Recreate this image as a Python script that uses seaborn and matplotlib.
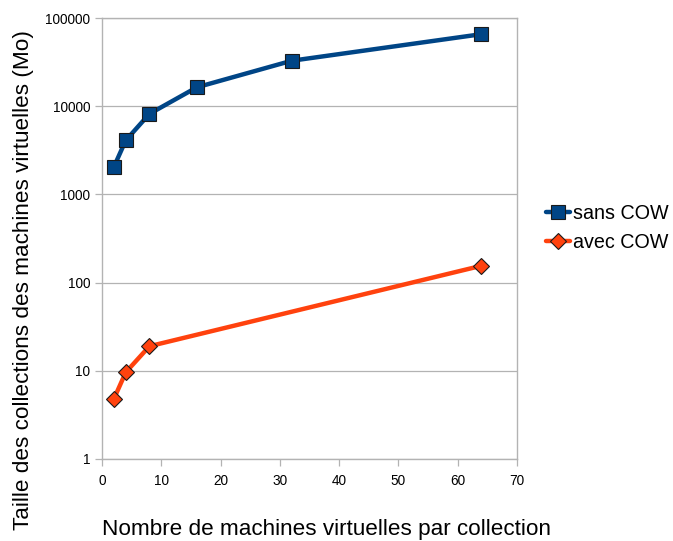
import matplotlib
matplotlib.use('Agg')
import matplotlib.pyplot as plt
import matplotlib.ticker as mticker
import pandas as pd
import seaborn as sns

# data
x_sans = [2, 4, 8, 16, 32, 64]
y_sans = [2048, 4096, 8192, 16384, 32768, 65536]
x_avec = [2, 4, 8, 64]
y_avec = [4.8, 9.6, 19, 155]

BLUE = '#004586'
ORANGE = '#ff420e'

sns.set_style('white')
plt.rcParams['font.family'] = ['Liberation Sans', 'DejaVu Sans']
plt.rcParams['text.color'] = 'black'
plt.rcParams['axes.labelcolor'] = 'black'
plt.rcParams['xtick.labelcolor'] = 'black'
plt.rcParams['ytick.labelcolor'] = 'black'

df_sans = pd.DataFrame({'x': x_sans, 'y': y_sans})
df_avec = pd.DataFrame({'x': x_avec, 'y': y_avec})

fig = plt.figure(figsize=(6.73, 5.41), dpi=100)
ax = fig.add_axes([0.1516, 0.1516, 0.768 - 0.1516, 0.9667 - 0.1516])

sns.lineplot(data=df_sans, x='x', y='y', ax=ax, color=BLUE, linewidth=3.2,
             marker='s', markersize=10, markerfacecolor=BLUE,
             markeredgecolor='#1a1a1a', markeredgewidth=0.8, label='sans COW')
sns.lineplot(data=df_avec, x='x', y='y', ax=ax, color=ORANGE, linewidth=3.2,
             marker='D', markersize=8, markerfacecolor=ORANGE,
             markeredgecolor='#1a1a1a', markeredgewidth=0.8, label='avec COW')

ax.set_yscale('log')
ax.set_ylim(1, 100000)
ax.set_xlim(0, 70)
ax.set_xticks(range(0, 71, 10))
ax.set_yticks([1, 10, 100, 1000, 10000, 100000])
ax.yaxis.set_major_formatter(mticker.FuncFormatter(lambda v, p: f'{int(round(v))}'))
ax.yaxis.set_minor_locator(mticker.NullLocator())

ax.grid(axis='y', color='#b3b3b3', linewidth=0.9)
ax.grid(axis='x', visible=False)
for s in ax.spines.values():
    s.set_color('#b3b3b3')
    s.set_linewidth(1.0)

ax.tick_params(axis='both', which='major', direction='out', length=5, width=0.9,
               color='#b3b3b3', labelsize=9.8, labelcolor='black', left=True, bottom=True)
ax.tick_params(axis='x', pad=6)

ax.set_xlabel('Nombre de machines virtuelles par collection', fontsize=16.2, color='black')
ax.xaxis.label.set_va('center')
ax.xaxis.set_label_coords(0.541, -0.16)
ax.set_ylabel('Taille des collections des machines virtuelles (Mo)', fontsize=16.2, color='black')
ax.yaxis.label.set_va('center')
ax.yaxis.set_label_coords(-0.19, 0.405)

ax.get_legend().remove()
leg = fig.legend(*ax.get_legend_handles_labels(), loc='center left',
                 bbox_to_anchor=(0.811, 0.5786), frameon=False,
                 fontsize=14.2, handlelength=1.25, handletextpad=0.12,
                 labelspacing=0.5, borderpad=0, borderaxespad=0)
for t in leg.get_texts():
    t.set_color('black')

fig.savefig('out.png', dpi=100)
